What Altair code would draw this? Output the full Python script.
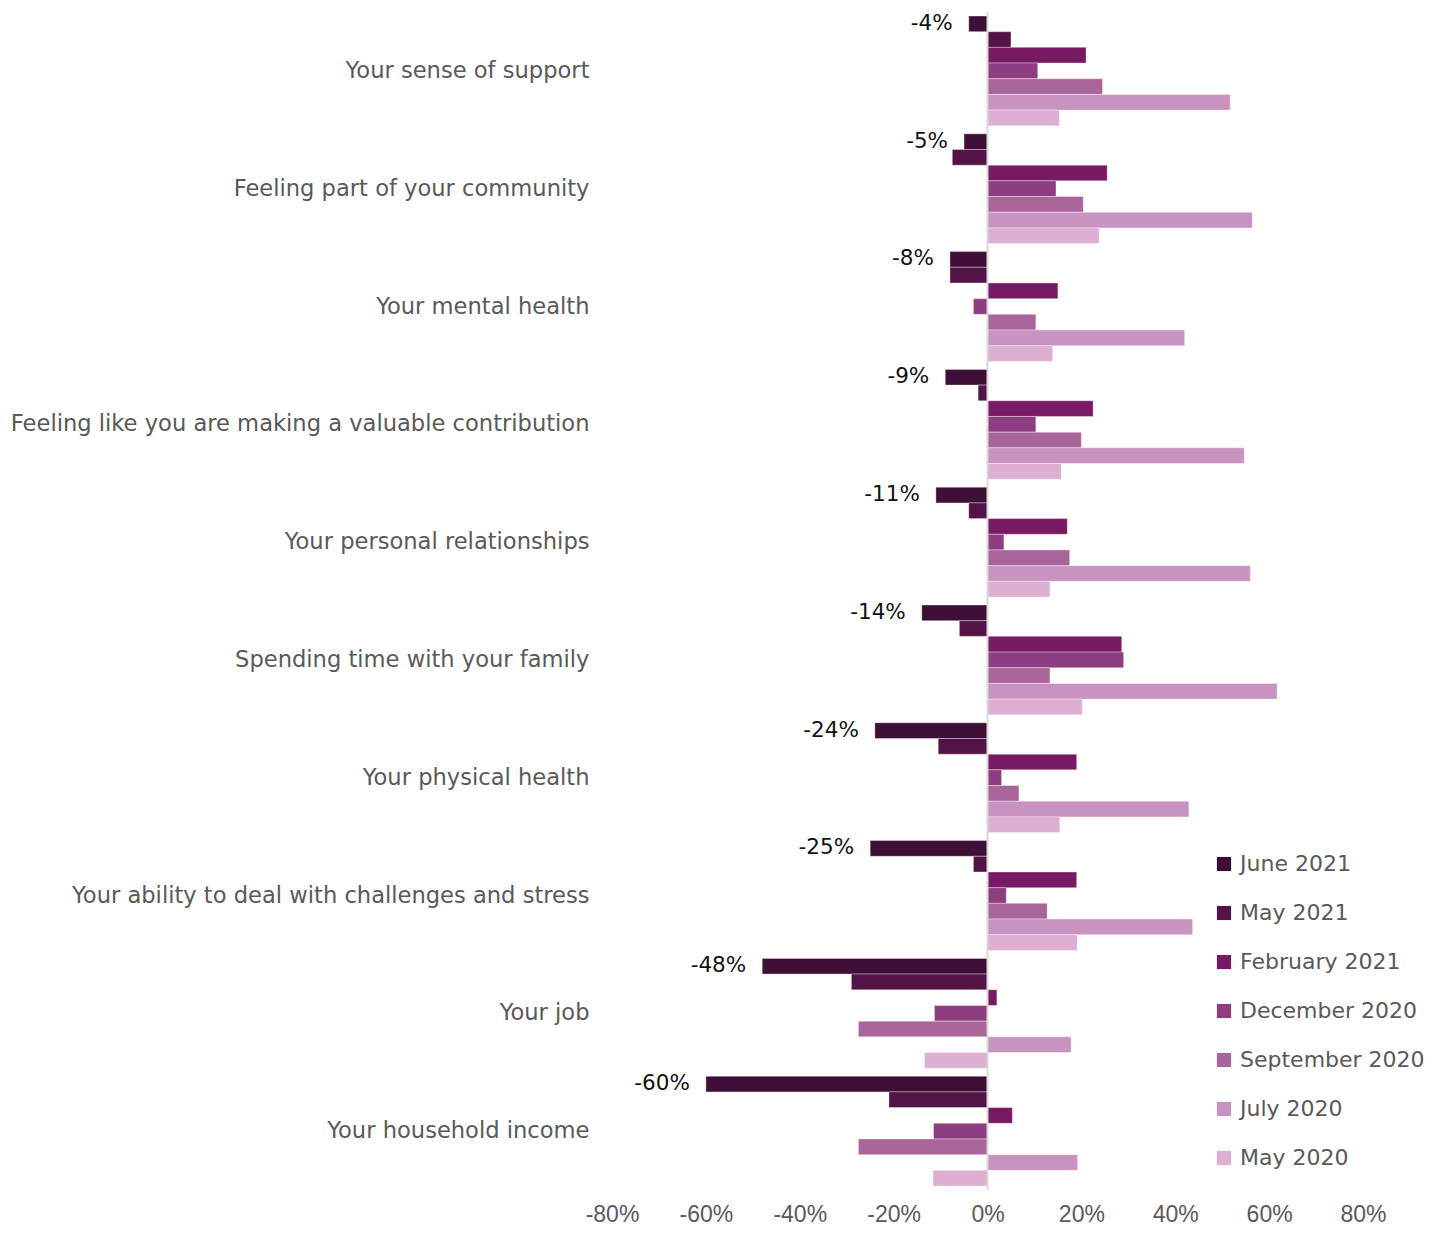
import altair as alt
import pandas as pd

categories = [
    "Your sense of support",
    "Feeling part of your community",
    "Your mental health",
    "Feeling like you are making a valuable contribution",
    "Your personal relationships",
    "Spending time with your family",
    "Your physical health",
    "Your ability to deal with challenges and stress",
    "Your job",
    "Your household income",
]
series = ["June 2021", "May 2021", "February 2021", "December 2020",
          "September 2020", "July 2020", "May 2020"]
colors = ["#3E1037", "#521446", "#771A63", "#8E3E80", "#A96499", "#C993C1", "#DCAFD3"]

june_2021 = [-4, -5, -8, -9, -11, -14, -24, -25, -48, -60]
may_2021 = [5, -7.5, -8, -2, -4, -6, -10.5, -3, -29, -21]
feb_2021 = [21, 25.5, 15, 22.5, 17, 28.6, 19, 19, 2, 5.3]
dec_2020 = [10.7, 14.6, -3, 10.3, 3.5, 29, 3, 4, -11.3, -11.5]
sep_2020 = [24.5, 20.4, 10.3, 20, 17.5, 13.3, 6.7, 12.7, -27.5, -27.5]
jul_2020 = [51.7, 56.4, 42, 54.7, 56, 61.7, 42.9, 43.7, 17.8, 19.2]
may_2020 = [15.3, 23.8, 13.9, 15.7, 13.3, 20.2, 15.4, 19.1, -13.4, -11.6]

values = [june_2021, may_2021, feb_2021, dec_2020, sep_2020, jul_2020, may_2020]

rows = []
for s, vals in zip(series, values):
    for c, v in zip(categories, vals):
        rows.append({"category": c, "series": s, "value": v})
df = pd.DataFrame(rows)

labels_df = pd.DataFrame({
    "category": categories,
    "series": ["June 2021"] * len(categories),
    "value": june_2021,
    "label": [f"{v}%" for v in june_2021],
})

FONT = "DejaVu Sans"
TICKFONT = "Liberation Sans"

y_enc = alt.Y("category:N", sort=categories,
              scale=alt.Scale(paddingInner=0.068, paddingOuter=0.034),
              axis=alt.Axis(title=None, domain=False, ticks=False, labelFontSize=22.6,
                            labelColor="#595959", labelPadding=23, labelLimit=800,
                            labelFont=FONT))
yoff_enc = alt.YOffset("series:N", sort=series, scale=alt.Scale(domain=series))
x_enc = alt.X("value:Q", scale=alt.Scale(domain=[-80, 80]),
              axis=alt.Axis(title=None, domain=False, ticks=False, grid=False,
                            values=[-80, -60, -40, -20, 0, 20, 40, 60, 80],
                            labelExpr="datum.value + '%'", labelFontSize=23,
                            labelFlush=False, labelOverlap=False,
                            labelColor="#595959", labelPadding=13, labelFont=TICKFONT))

bars = alt.Chart(df).mark_bar(stroke="white", strokeWidth=0.6, strokeOpacity=0.6).encode(
    y=y_enc,
    yOffset=yoff_enc,
    x=x_enc,
    color=alt.Color("series:N", sort=series,
                    scale=alt.Scale(domain=series, range=colors),
                    legend=alt.Legend(title=None, orient="none", legendX=601, legendY=841,
                                      symbolType="square", symbolSize=200,
                                      symbolStrokeWidth=0, labelFontSize=22,
                                      labelColor="#595959", labelFont=FONT,
                                      labelLimit=400,
                                      rowPadding=27, labelOffset=5)),
)

zero = alt.Chart(pd.DataFrame({"z": [0]})).mark_rule(color="#d9d9d9", strokeWidth=2).encode(
    x=alt.X("z:Q")
)

text = alt.Chart(labels_df).mark_text(align="right", baseline="middle", dx=-16,
                                      fontSize=21.5, font=FONT, color="#111111").encode(
    y=alt.Y("category:N", sort=categories),
    yOffset=yoff_enc,
    x=alt.X("value:Q"),
    text="label:N",
)

chart = alt.layer(bars, zero, text).properties(
    width=751, height=1178,
    padding={"left": 2, "top": 3, "right": 0, "bottom": 0},
).configure_view(stroke=None)

chart.save("out.html", embed_options={"renderer": "svg", "actions": False})
